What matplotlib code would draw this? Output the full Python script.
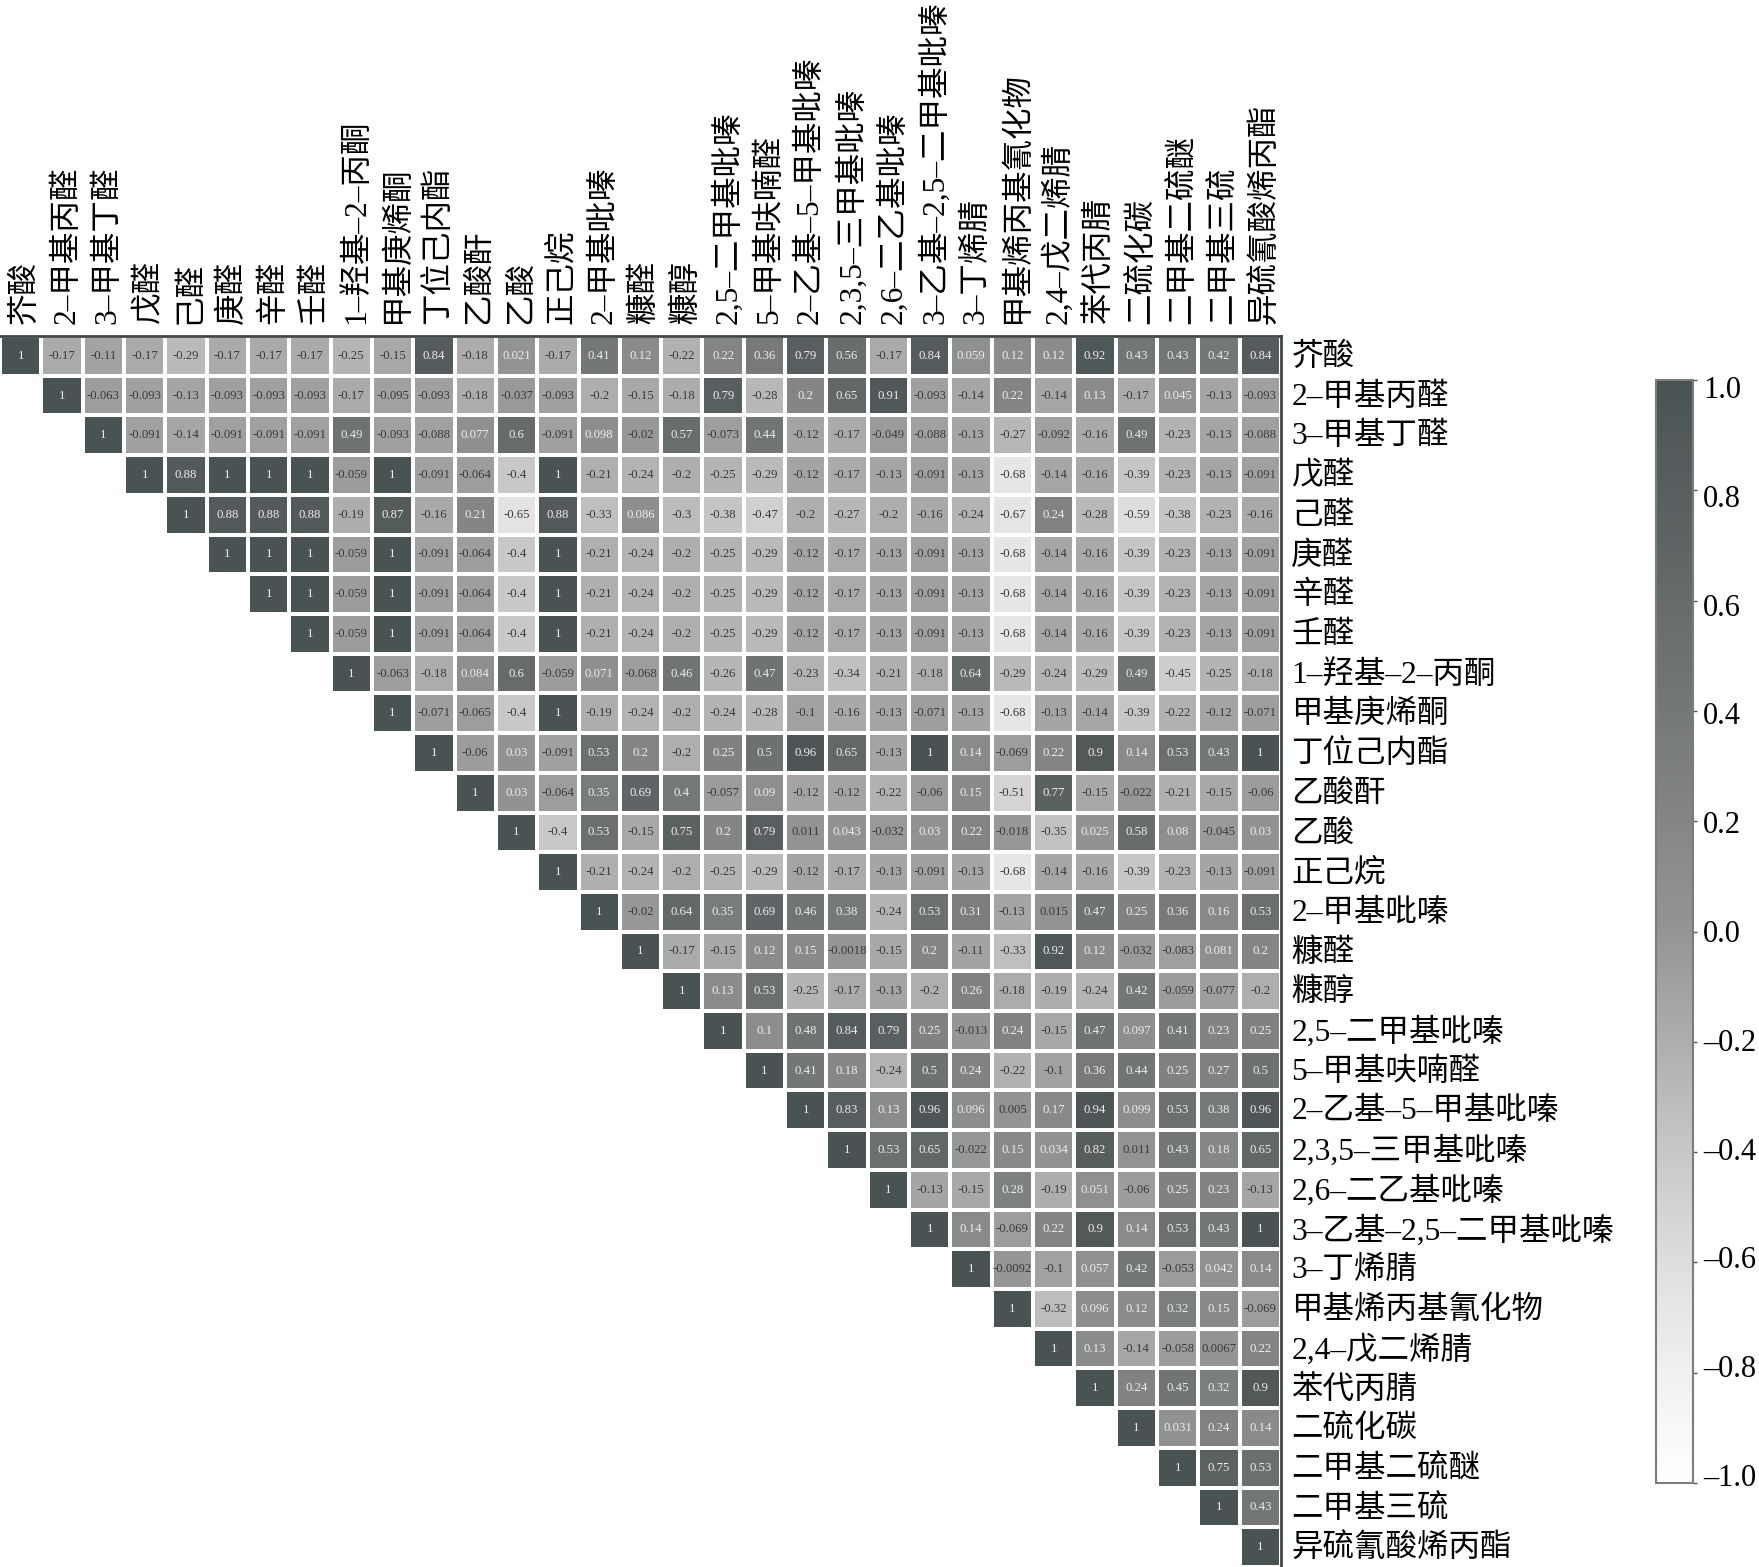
import matplotlib
matplotlib.use("Agg")
import matplotlib.pyplot as plt
from matplotlib.colors import LinearSegmentedColormap
from matplotlib.transforms import ScaledTranslation
import numpy as np

labels = ["芥酸", "2–甲基丙醛", "3–甲基丁醛", "戊醛", "己醛", "庚醛", "辛醛", "壬醛",
          "1–羟基–2–丙酮", "甲基庚烯酮", "丁位己内酯", "乙酸酐", "乙酸", "正己烷",
          "2–甲基吡嗪", "糠醛", "糠醇", "2,5–二甲基吡嗪", "5–甲基呋喃醛",
          "2–乙基–5–甲基吡嗪", "2,3,5–三甲基吡嗪", "2,6–二乙基吡嗪",
          "3–乙基–2,5–二甲基吡嗪", "3–丁烯腈", "甲基烯丙基氰化物", "2,4–戊二烯腈",
          "苯代丙腈", "二硫化碳", "二甲基二硫醚", "二甲基三硫", "异硫氰酸烯丙酯"]

# upper triangle, each row starts at the diagonal
row00 = [1, -0.17, -0.11, -0.17, -0.29, -0.17, -0.17, -0.17, -0.25, -0.15, 0.84, -0.18, 0.021, -0.17, 0.41, 0.12, -0.22, 0.22, 0.36, 0.79, 0.56, -0.17, 0.84, 0.059, 0.12, 0.12, 0.92, 0.43, 0.43, 0.42, 0.84]
row01 = [1, -0.063, -0.093, -0.13, -0.093, -0.093, -0.093, -0.17, -0.095, -0.093, -0.18, -0.037, -0.093, -0.2, -0.15, -0.18, 0.79, -0.28, 0.2, 0.65, 0.91, -0.093, -0.14, 0.22, -0.14, 0.13, -0.17, 0.045, -0.13, -0.093]
row02 = [1, -0.091, -0.14, -0.091, -0.091, -0.091, 0.49, -0.093, -0.088, 0.077, 0.6, -0.091, 0.098, -0.02, 0.57, -0.073, 0.44, -0.12, -0.17, -0.049, -0.088, -0.13, -0.27, -0.092, -0.16, 0.49, -0.23, -0.13, -0.088]
row03 = [1, 0.88, 1, 1, 1, -0.059, 1, -0.091, -0.064, -0.4, 1, -0.21, -0.24, -0.2, -0.25, -0.29, -0.12, -0.17, -0.13, -0.091, -0.13, -0.68, -0.14, -0.16, -0.39, -0.23, -0.13, -0.091]
row04 = [1, 0.88, 0.88, 0.88, -0.19, 0.87, -0.16, 0.21, -0.65, 0.88, -0.33, 0.086, -0.3, -0.38, -0.47, -0.2, -0.27, -0.2, -0.16, -0.24, -0.67, 0.24, -0.28, -0.59, -0.38, -0.23, -0.16]
row05 = [1, 1, 1, -0.059, 1, -0.091, -0.064, -0.4, 1, -0.21, -0.24, -0.2, -0.25, -0.29, -0.12, -0.17, -0.13, -0.091, -0.13, -0.68, -0.14, -0.16, -0.39, -0.23, -0.13, -0.091]
row06 = [1, 1, -0.059, 1, -0.091, -0.064, -0.4, 1, -0.21, -0.24, -0.2, -0.25, -0.29, -0.12, -0.17, -0.13, -0.091, -0.13, -0.68, -0.14, -0.16, -0.39, -0.23, -0.13, -0.091]
row07 = [1, -0.059, 1, -0.091, -0.064, -0.4, 1, -0.21, -0.24, -0.2, -0.25, -0.29, -0.12, -0.17, -0.13, -0.091, -0.13, -0.68, -0.14, -0.16, -0.39, -0.23, -0.13, -0.091]
row08 = [1, -0.063, -0.18, 0.084, 0.6, -0.059, 0.071, -0.068, 0.46, -0.26, 0.47, -0.23, -0.34, -0.21, -0.18, 0.64, -0.29, -0.24, -0.29, 0.49, -0.45, -0.25, -0.18]
row09 = [1, -0.071, -0.065, -0.4, 1, -0.19, -0.24, -0.2, -0.24, -0.28, -0.1, -0.16, -0.13, -0.071, -0.13, -0.68, -0.13, -0.14, -0.39, -0.22, -0.12, -0.071]
row10 = [1, -0.06, 0.03, -0.091, 0.53, 0.2, -0.2, 0.25, 0.5, 0.96, 0.65, -0.13, 1, 0.14, -0.069, 0.22, 0.9, 0.14, 0.53, 0.43, 1]
row11 = [1, 0.03, -0.064, 0.35, 0.69, 0.4, -0.057, 0.09, -0.12, -0.12, -0.22, -0.06, 0.15, -0.51, 0.77, -0.15, -0.022, -0.21, -0.15, -0.06]
row12 = [1, -0.4, 0.53, -0.15, 0.75, 0.2, 0.79, 0.011, 0.043, -0.032, 0.03, 0.22, -0.018, -0.35, 0.025, 0.58, 0.08, -0.045, 0.03]
row13 = [1, -0.21, -0.24, -0.2, -0.25, -0.29, -0.12, -0.17, -0.13, -0.091, -0.13, -0.68, -0.14, -0.16, -0.39, -0.23, -0.13, -0.091]
row14 = [1, -0.02, 0.64, 0.35, 0.69, 0.46, 0.38, -0.24, 0.53, 0.31, -0.13, 0.015, 0.47, 0.25, 0.36, 0.16, 0.53]
row15 = [1, -0.17, -0.15, 0.12, 0.15, -0.0018, -0.15, 0.2, -0.11, -0.33, 0.92, 0.12, -0.032, -0.083, 0.081, 0.2]
row16 = [1, 0.13, 0.53, -0.25, -0.17, -0.13, -0.2, 0.26, -0.18, -0.19, -0.24, 0.42, -0.059, -0.077, -0.2]
row17 = [1, 0.1, 0.48, 0.84, 0.79, 0.25, -0.013, 0.24, -0.15, 0.47, 0.097, 0.41, 0.23, 0.25]
row18 = [1, 0.41, 0.18, -0.24, 0.5, 0.24, -0.22, -0.1, 0.36, 0.44, 0.25, 0.27, 0.5]
row19 = [1, 0.83, 0.13, 0.96, 0.096, 0.005, 0.17, 0.94, 0.099, 0.53, 0.38, 0.96]
row20 = [1, 0.53, 0.65, -0.022, 0.15, 0.034, 0.82, 0.011, 0.43, 0.18, 0.65]
row21 = [1, -0.13, -0.15, 0.28, -0.19, 0.051, -0.06, 0.25, 0.23, -0.13]
row22 = [1, 0.14, -0.069, 0.22, 0.9, 0.14, 0.53, 0.43, 1]
row23 = [1, -0.0092, -0.1, 0.057, 0.42, -0.053, 0.042, 0.14]
row24 = [1, -0.32, 0.096, 0.12, 0.32, 0.15, -0.069]
row25 = [1, 0.13, -0.14, -0.058, 0.0067, 0.22]
row26 = [1, 0.24, 0.45, 0.32, 0.9]
row27 = [1, 0.031, 0.24, 0.14]
row28 = [1, 0.75, 0.53]
row29 = [1, 0.43]
row30 = [1]
rows = [row00, row01, row02, row03, row04, row05, row06, row07, row08, row09, row10,
        row11, row12, row13, row14, row15, row16, row17, row18, row19, row20,
        row21, row22, row23, row24, row25, row26, row27, row28, row29, row30]
cbar_ticks = [-1.0, -0.8, -0.6, -0.4, -0.2, 0.0, 0.2, 0.4, 0.6, 0.8, 1.0]

plt.rcParams['font.family'] = ['Liberation Serif', 'Noto Sans CJK SC']

n = len(labels)
corr = np.full((n, n), np.nan)
for i in range(n):
    corr[i, i:] = rows[i]

cmap = LinearSegmentedColormap.from_list("grey_corr", [
    (0.0, "#ffffff"), (0.16, "#e6e6e6"), (0.30, "#c8c8c8"), (0.40, "#aeaeae"),
    (0.50, "#949494"), (0.75, "#6d7171"), (1.0, "#4a5354")])

W, H = 1759, 1567
fig = plt.figure(figsize=(W / 100, H / 100), dpi=100)


def nudge(label, dx, dy):
    # move a tick label by some pixels, dy down
    shift = ScaledTranslation(dx / 100, -dy / 100, fig.dpi_scale_trans)
    label.set_transform(label.get_transform() + shift)


ax = fig.add_axes([0 / W, 0, 1281 / W, (H - 336) / H])
mesh = ax.pcolormesh(np.arange(n + 1), np.arange(n + 1), corr, cmap=cmap, vmin=-1, vmax=1,
                     edgecolors="white", linewidth=1.6)
ax.set_xlim(0, n)
ax.set_ylim(n, 0)
ax.set_aspect("auto")

for i in range(n):
    for j in range(i, n):
        v = corr[i, j]
        col = "#ececec" if v > 0.018 else "#3a3a3a"
        ax.text(j + 0.5, i + 0.5, format(v, ".2g"), ha="center", va="center",
                color=col, fontsize=9.2)

ax.xaxis.tick_top()
ax.set_xticks(np.arange(n) + 0.5)
ax.set_yticks(np.arange(n) + 0.5)
ax.yaxis.tick_right()
ax.set_xticklabels(labels, rotation=90, fontsize=22.7, ha="center", va="bottom")
ax.set_yticklabels(labels, fontsize=22.7, va="center", ha="left")
ax.tick_params(axis="x", length=0, pad=9)
ax.tick_params(axis="y", length=0, pad=7.4)
for lbl in ax.get_xticklabels():
    nudge(lbl, 4.5, 0)
for lbl in ax.get_yticklabels():
    nudge(lbl, 0, 1.5)
for s in ["left", "bottom"]:
    ax.spines[s].set_visible(False)
for s in ["top", "right"]:
    ax.spines[s].set_color("#3f4747")
    ax.spines[s].set_linewidth(2.0)

cax = fig.add_axes([1656 / W, (H - 1483) / H, 37 / W, (1483 - 380) / H])
cb = fig.colorbar(mesh, cax=cax, ticks=cbar_ticks)
cb.ax.set_yticklabels([f"{t:.1f}".replace("-", "–") for t in cbar_ticks], fontsize=22)
cb.ax.tick_params(length=3, width=1, color="#555555", pad=4.3)
for lbl, t in zip(cb.ax.get_yticklabels(), cbar_ticks):
    # labels in the reference are spaced a bit tighter than the ticks
    nudge(lbl, 0, -0.5 + 7.5 * t)
cb.outline.set_edgecolor("#7c7c7c")
cb.outline.set_linewidth(1.5)

fig.savefig("out.png", dpi=100)
